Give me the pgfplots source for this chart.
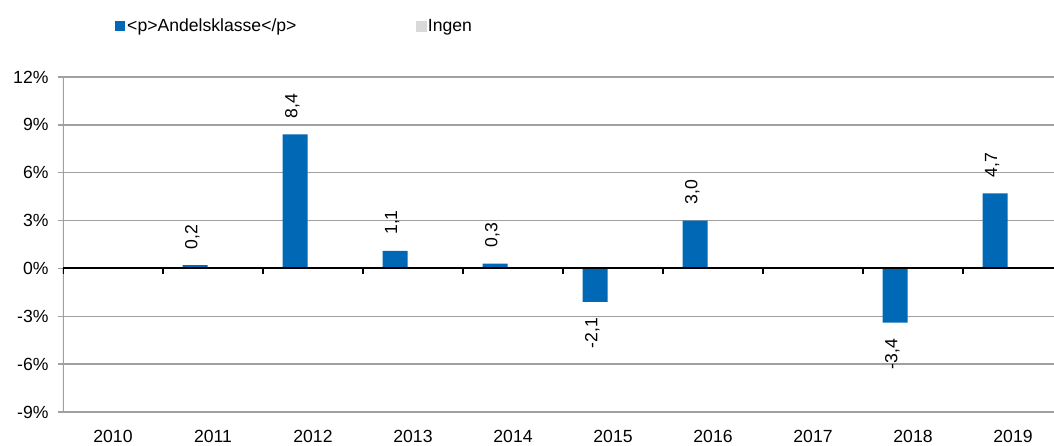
\documentclass[border=0pt]{standalone}
\usepackage{fontspec}
\setmainfont{Liberation Sans}
\usepackage{pgfplots}
\usepackage{pgfplotstable}
\pgfplotsset{compat=1.18}
\definecolor{barblue}{RGB}{0,104,180}
\definecolor{ingengray}{RGB}{217,217,217}
\definecolor{gridgray}{RGB}{160,160,160}

\pgfplotstableread{
x year val lab
0 2010 0 {}
1 2011 0.2 {0,2}
2 2012 8.4 {8,4}
3 2013 1.1 {1,1}
4 2014 0.3 {0,3}
5 2015 -2.1 {-2,1}
6 2016 3.0 {3,0}
7 2017 0 {}
8 2018 -3.4 {-3,4}
9 2019 4.7 {4,7}
}\datatable

\begin{document}
\begin{tikzpicture}
\path[use as bounding box] (-63pt,-33pt) rectangle (991pt,412pt);
\begin{axis}[
  at={(0pt,0pt)}, anchor=south west,
  scale only axis, width=991pt, height=335pt,
  xmin=-0.5, xmax=9.41, ymin=-9, ymax=12,
  ybar,
  font=\fontsize{17.6}{20}\selectfont,
  ytick={-9,-6,-3,0,3,6,9,12},
  yticklabels={-9\%,-6\%,-3\%,0\%,3\%,6\%,9\%,12\%},
  xtick={0,...,9},
  xticklabels={2010,2011,2012,2013,2014,2015,2016,2017,2018,2019},
  axis line style={draw=none},
  tick align=outside, major tick length=5pt,
  ytick pos=left,
  xtick style={draw=none},
  ytick style={gridgray, line width=1.5pt},
  ymajorgrids,
  grid style={gridgray, line width=1.5pt},
  yticklabel style={xshift=-6pt},
  xticklabel style={yshift=-9.5pt},
  legend style={draw=none, fill=none, inner sep=0pt, at={(0.0525,1.152)}, anchor=west,
    legend columns=2, nodes={inner sep=2pt},
    /tikz/column 2/.style={column sep=117pt}},
  legend cell align=left,
]
\addplot[ybar, fill=barblue, draw=none, bar width=0.25, bar shift=-0.18,
  legend image code/.code={\fill[barblue] (0pt,-5pt) rectangle (10pt,5pt);},
  point meta=explicit symbolic,
  visualization depends on={\thisrow{val} \as \rawv},
  nodes near coords,
  every node near coord/.append style={font=\fontsize{17.6}{20}\selectfont, black,
    /utils/exec={\ifdim\rawv pt<0pt \def\nanch{east}\else\def\nanch{west}\fi},
    xshift=-2.7pt, rotate=90, anchor=\nanch, inner xsep=16pt, inner ysep=0pt},
] table[x=x, y=val, meta=lab] {\datatable};
\addlegendentry{<p>Andelsklasse</p>}
\addlegendimage{legend image code/.code={\fill[ingengray] (0pt,-5pt) rectangle (10pt,5pt);}}
\addlegendentry{Ingen}
\draw[gridgray, line width=1.5pt] (rel axis cs:0,0) -- (rel axis cs:0,1);
\draw[black, line width=2pt] (axis cs:-0.5,0) -- (axis cs:9.41,0);
\pgfplotsinvokeforeach{-0.5,0.5,1.5,2.5,3.5,4.5,5.5,6.5,7.5,8.5}{
  \draw[black, line width=2pt] (axis cs:#1,0) -- ++(0pt,-6pt);
}
\end{axis}
\end{tikzpicture}
\end{document}
